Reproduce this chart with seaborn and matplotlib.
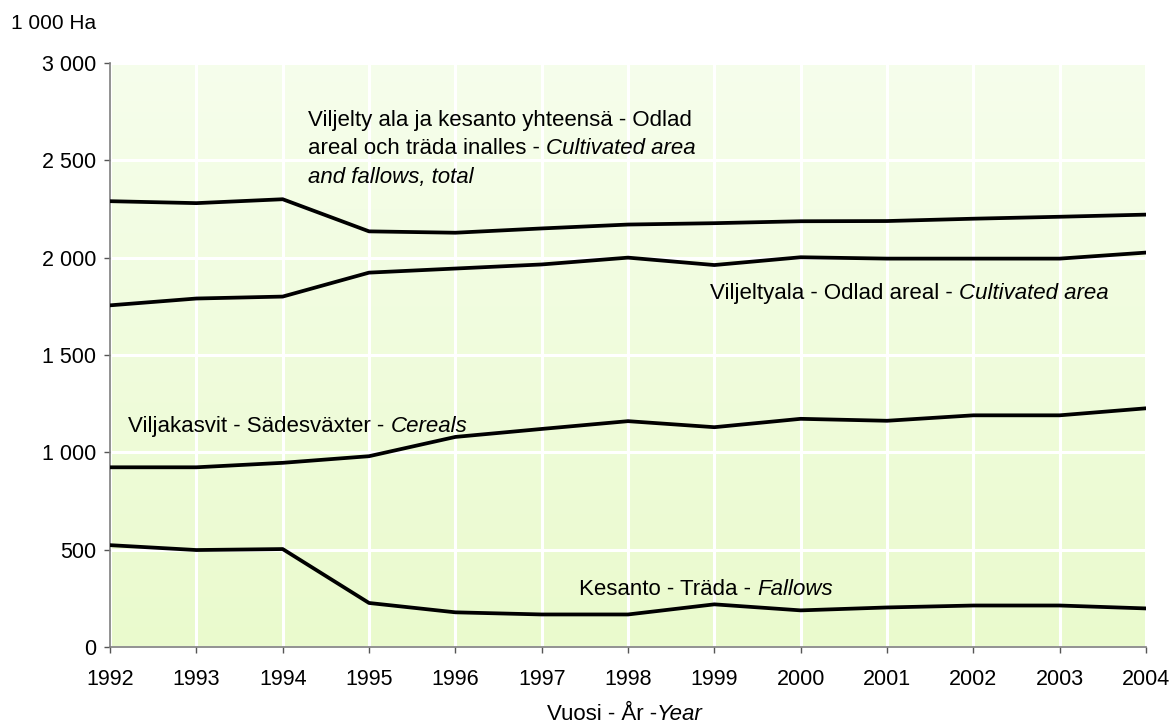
import numpy as np
import pandas as pd
import seaborn as sns
import matplotlib.pyplot as plt
from matplotlib.ticker import FuncFormatter
from matplotlib.colors import LinearSegmentedColormap

years = list(range(1992, 2005))
total = [2290, 2280, 2300, 2135, 2128, 2150, 2170, 2177, 2187, 2188, 2200, 2210, 2221]
cultivated = [1755, 1790, 1800, 1923, 1944, 1965, 2000, 1962, 2002, 1995, 1995, 1995, 2026]
cereals = [923, 923, 946, 980, 1079, 1120, 1160, 1129, 1172, 1162, 1190, 1190, 1226]
fallows = [523, 498, 503, 226, 178, 167, 167, 219, 188, 203, 213, 213, 198]

series = {
    "total": total,
    "cultivated": cultivated,
    "cereals": cereals,
    "fallows": fallows,
}
df = pd.concat(
    [pd.DataFrame({"year": years, "value": vals, "series": name}) for name, vals in series.items()]
)

sns.set_theme(style="white")
plt.rcParams["font.family"] = ["Liberation Sans", "DejaVu Sans"]
plt.rcParams["text.color"] = "black"

fig = plt.figure(figsize=(11.72, 7.28), dpi=100)
ax = fig.add_axes([0.0939, 0.1113, 0.8839, 0.8022])

# pale green gradient behind the plot area
cmap = LinearSegmentedColormap.from_list("bg", ["#eafacd", "#f6feec"])
ax.imshow(
    np.linspace(0, 1, 256).reshape(-1, 1),
    cmap=cmap,
    origin="lower",
    aspect="auto",
    extent=[0, 1, 0, 1],
    transform=ax.transAxes,
    zorder=0,
)

sns.lineplot(
    data=df,
    x="year",
    y="value",
    hue="series",
    palette=["black"] * 4,
    linewidth=2.7,
    legend=False,
    ax=ax,
    zorder=3,
)

ax.set_xlim(1992, 2004)
ax.set_ylim(0, 3000)
ax.set_xticks(years)
ax.set_yticks(range(0, 3001, 500))
ax.yaxis.set_major_formatter(FuncFormatter(lambda v, p: f"{int(v):,}".replace(",", " ")))
ax.grid(True, color="white", linewidth=2.2, zorder=1)
ax.set_axisbelow(True)

for s in ["top", "right"]:
    ax.spines[s].set_visible(False)
for s in ["left", "bottom"]:
    ax.spines[s].set_color("#7f7f7f")
    ax.spines[s].set_linewidth(1.2)

fs = 16
ax.tick_params(axis="both", direction="out", length=4, width=1, color="#555555",
               labelsize=15.5, labelcolor="black", bottom=True, left=True)
ax.tick_params(axis="x", pad=12)
ax.tick_params(axis="y", pad=6)
ax.set_xlabel("")
ax.set_ylabel("")


# line labels: roman text, italic English part chained after it
def label(x, y, roman, italic=None):
    t = ax.text(x, y, roman, fontsize=fs, ha="left", va="center", zorder=4)
    if italic:
        ax.annotate(italic, xy=(1, 0), xycoords=t, ha="left", va="bottom",
                    fontsize=fs, style="italic", zorder=4)
    return t


label(1994.29, 2705, "Viljelty ala ja kesanto yhteensä - Odlad")
label(1994.29, 2560, "areal och träda inalles - ", "Cultivated area")
ax.text(1994.29, 2410, "and fallows, total", fontsize=fs, style="italic",
        ha="left", va="center", zorder=4)
label(1998.95, 1815, "Viljeltyala - Odlad areal - ", "Cultivated area")
label(1992.21, 1135, "Viljakasvit - Sädesväxter - ", "Cereals")
label(1997.43, 293, "Kesanto - Träda - ", "Fallows")

fig.text(0.009, 0.968, "1 000 Ha", fontsize=15, ha="left", va="center")
xl = fig.text(0.4667, 0.004, "Vuosi - År -", fontsize=fs, ha="left", va="bottom")
ax.annotate("Year", xy=(1, 0), xycoords=xl, ha="left", va="bottom",
            fontsize=fs, style="italic", annotation_clip=False)

fig.savefig("out.png", dpi=100)
